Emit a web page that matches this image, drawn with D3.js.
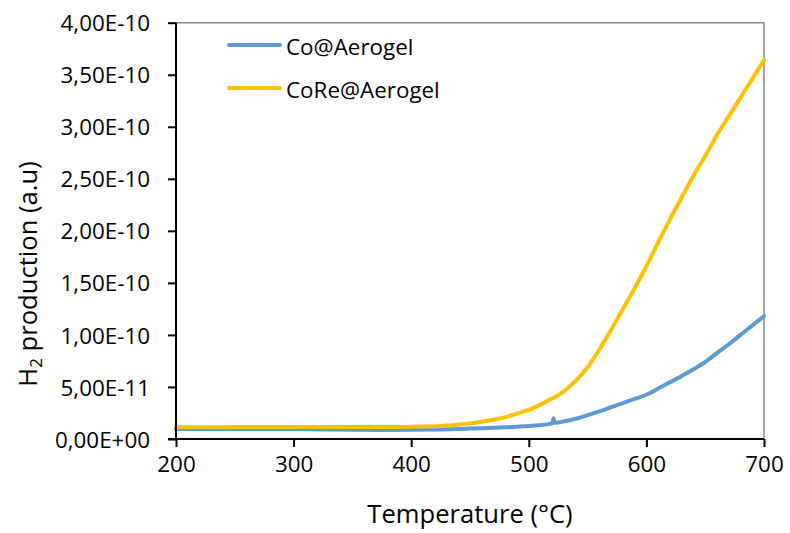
<!DOCTYPE html>
<html><head><meta charset="utf-8">
<script src="https://cdn.jsdelivr.net/npm/d3@7"></script>
<style>body{margin:0;background:#fff}svg{display:block}text{font-family:"Open Sans",sans-serif;fill:#000}</style>
</head><body>
<svg id="c" width="790" height="533"></svg>
<script>
const temps = [200,225,250,275,300,325,350,375,400,425,450,460,470,480,490,500,510,520,521,522,530,540,550,560,570,580,590,600,610,620,630,640,650,660,670,680,690,700];
const coAerogel = [0.95,0.95,0.95,0.95,0.95,0.92,0.9,0.86,0.88,0.92,1.0,1.03,1.07,1.12,1.18,1.25,1.35,1.5,2.0,1.55,1.7,1.95,2.3,2.65,3.05,3.45,3.85,4.25,4.85,5.45,6.05,6.7,7.4,8.25,9.1,10.0,10.9,11.8].map(v=>v*1e-11);
const coReAerogel = [1.12,1.12,1.15,1.15,1.15,1.15,1.15,1.15,1.18,1.25,1.5,1.65,1.85,2.1,2.45,2.8,3.3,3.9,3.95,4.0,4.6,5.6,6.9,8.6,10.5,12.5,14.5,16.6,18.9,21.1,23.2,25.3,27.2,29.2,31.0,32.8,34.6,36.4].map(v=>v*1e-11);
const xTicks = [200,300,400,500,600,700];
const yTicks = [0,5e-11,1e-10,1.5e-10,2e-10,2.5e-10,3e-10,3.5e-10,4e-10];
const yTickLabels = ["0,00E+00","5,00E-11","1,00E-10","1,50E-10","2,00E-10","2,50E-10","3,00E-10","3,50E-10","4,00E-10"];
const seriesNames = ["Co@Aerogel","CoRe@Aerogel"];
const colors = ["#5B9BD5","#FFC000"];

const svg = d3.select("#c");
const L=176, R=764, T=22.7, B=439;
const x = d3.scaleLinear().domain([200,700]).range([L,R]);
const y = d3.scaleLinear().domain([0,4e-10]).range([B,T]);

// frame top/right
svg.append("line").attr("x1",L).attr("x2",R).attr("y1",T).attr("y2",T).attr("stroke","#898989").attr("stroke-width",1.5);
svg.append("line").attr("x1",R).attr("x2",R).attr("y1",T).attr("y2",B).attr("stroke","#898989").attr("stroke-width",1.5);

const series = [coAerogel, coReAerogel];
const line = d3.line().x((d,i)=>x(temps[i])).y(d=>y(d)).curve(d3.curveMonotoneX);
series.forEach((s,k)=>{
  svg.append("path").datum(s).attr("d",line).attr("fill","none")
    .attr("stroke",colors[k]).attr("stroke-width",4).attr("stroke-linejoin","round").attr("stroke-linecap","round");
});

// axes
const xAxis = d3.axisBottom(x).tickValues(xTicks).tickSize(8).tickPadding(9).tickFormat(d3.format("d"));
const gx = svg.append("g").attr("transform",`translate(0,${B})`).call(xAxis);
gx.select(".domain").attr("stroke","#000").attr("stroke-width",2).attr("d",`M${L-8},0H${R}`);
gx.selectAll(".tick line").attr("stroke","#000").attr("stroke-width",2);
gx.selectAll(".tick text").attr("font-size",22.4).attr("font-family","Open Sans").attr("fill","#000").attr("dy","0.71em");

const yAxis = d3.axisLeft(y).tickValues(yTicks).tickSize(8).tickPadding(18).tickFormat((d,i)=>yTickLabels[i]);
const gy = svg.append("g").attr("transform",`translate(${L},0)`).call(yAxis);
gy.select(".domain").attr("stroke","#000").attr("stroke-width",2).attr("d",`M0,${T}V${B}`);
gy.selectAll(".tick line").attr("stroke","#000").attr("stroke-width",2);
gy.selectAll(".tick text").attr("font-size",22.4).attr("font-family","Open Sans").attr("fill","#000").attr("dy","0.36em");

// axis titles
svg.append("text").attr("x",470).attr("y",523).attr("text-anchor","middle").attr("font-size",25.6).text("Temperature (°C)");
const yt = svg.append("text").attr("transform","translate(37,274) rotate(-90)").attr("text-anchor","middle").attr("font-size",25.6);
yt.append("tspan").text("H");
yt.append("tspan").attr("font-size",17).attr("dy",5).text("2");
yt.append("tspan").attr("dy",-5).text(" production (a.u)");

// legend
seriesNames.forEach((n,k)=>{
  const ly = 45 + k*43;
  svg.append("line").attr("x1",229).attr("x2",280).attr("y1",ly).attr("y2",ly).attr("stroke",colors[k]).attr("stroke-width",4).attr("stroke-linecap","round");
  svg.append("text").attr("x",286).attr("y",ly+10).attr("font-size",22.4).text(n);
});
</script>
</body></html>
